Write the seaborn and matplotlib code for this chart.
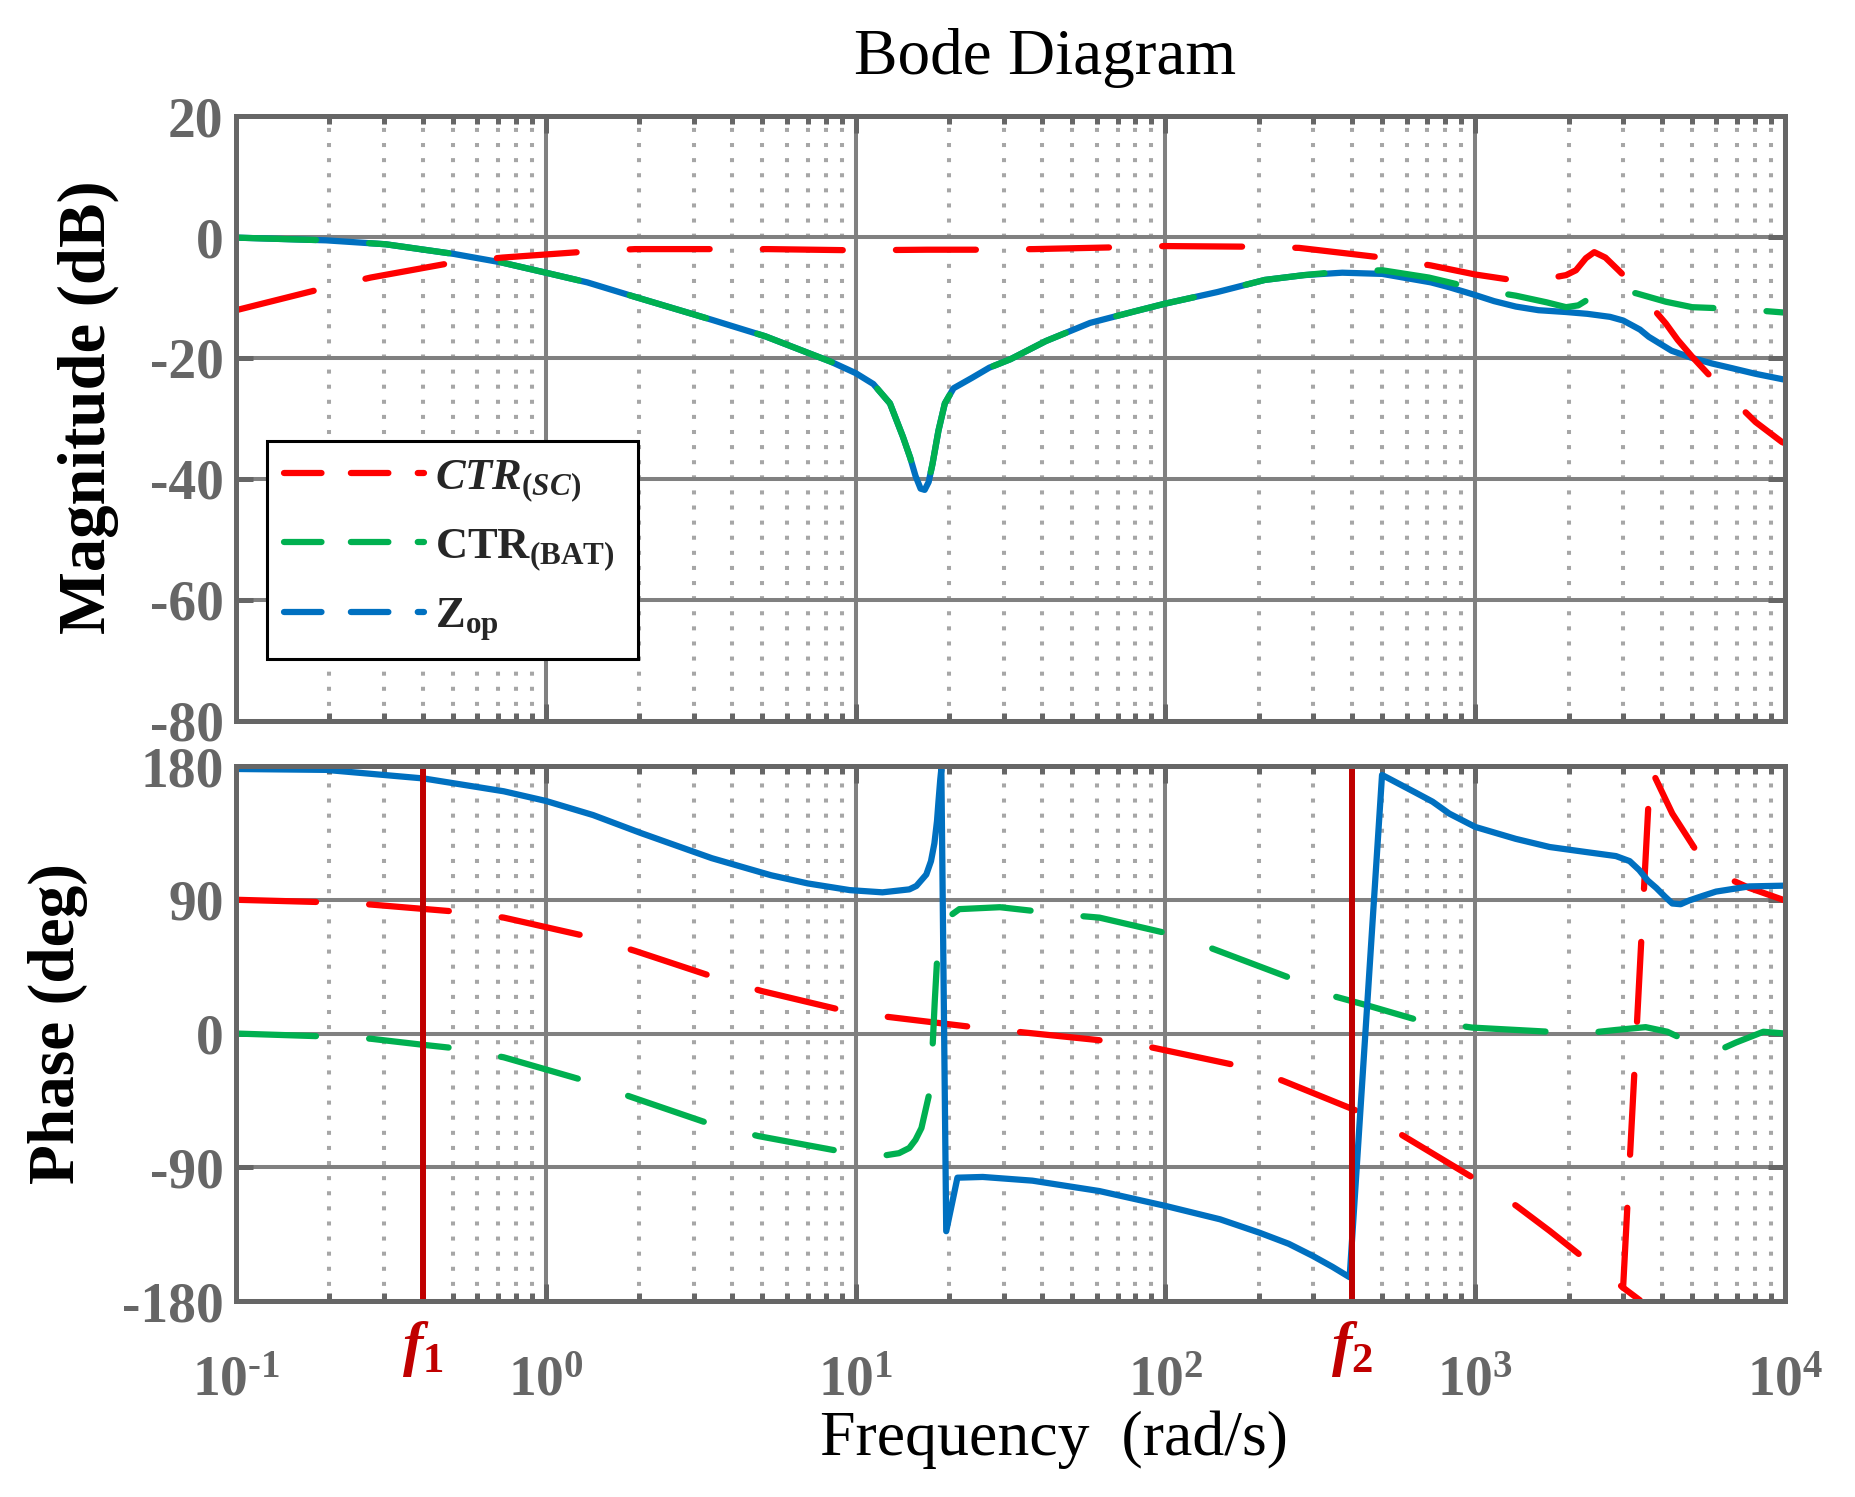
import matplotlib
matplotlib.use("Agg")
import numpy as np
import pandas as pd
import seaborn as sns
import matplotlib.pyplot as plt
from matplotlib.lines import Line2D
from matplotlib.ticker import LogLocator, NullFormatter

# ---- magnitude (dB) ----
w_zop_mag = [0.1, 0.195, 0.304, 0.505, 0.718, 1.0, 1.36, 1.94, 3.44, 5.1, 8.3, 10.0, 11.4, 12.9, 14.2,
             15.0, 15.6, 16.2, 16.7, 17.2, 17.7, 18.5, 19.4, 20.7, 23.7, 27.0, 31.6, 41.1, 57.1, 79.4,
             100, 147, 209, 280, 372, 501, 719, 824, 1000, 1150, 1352, 1600, 1963, 2300, 2723,
             3000, 3400, 3631, 4300, 5012, 5800, 6761, 8000, 10000]
zop_mag = [-0.1, -0.55, -1.2, -2.8, -4.2, -5.9, -7.5, -9.9, -13.7, -16.4, -20.6, -22.5, -24.3, -27.5, -33.0,
           -36.5, -39.5, -41.6, -41.8, -40.5, -37.5, -32.0, -27.5, -25.0, -23.3, -21.6, -20.2, -17.2, -14.2, -12.3,
           -11.0, -9.1, -7.1, -6.3, -5.9, -6.1, -7.5, -8.3, -9.6, -10.6, -11.5, -12.1, -12.4, -12.7, -13.2,
           -13.8, -15.3, -16.5, -18.8, -20.0, -20.9, -21.7, -22.6, -23.6]

w_bat_mag = [0.1, 0.195, 0.304, 0.505, 0.718, 1.0, 1.36, 1.94, 3.44, 5.1, 8.3, 10.0, 11.4, 12.9, 14.2,
             15.0, 15.6, 16.2, 16.7, 17.2, 17.7, 18.5, 19.4, 20.7, 23.7, 27.0, 31.6, 41.1, 57.1, 79.4,
             100, 147, 209, 280, 372, 501, 708, 1054, 1352, 1700, 1963, 2150, 2400, 2667, 3000,
             3304, 4121, 5012, 7112, 10000]
bat_mag = [-0.1, -0.55, -1.2, -2.8, -4.2, -5.9, -7.5, -9.9, -13.7, -16.4, -20.6, -22.5, -24.3, -27.5, -33.0,
           -36.5, -39.5, -41.6, -41.8, -40.5, -37.5, -32.0, -27.5, -25.0, -23.3, -21.6, -20.2, -17.2, -14.2, -12.3,
           -11.0, -9.1, -7.1, -6.3, -5.7, -5.5, -6.7, -8.8, -9.7, -10.8, -11.6, -11.3, -9.8, -8.6, -8.9,
           -9.3, -10.7, -11.6, -11.9, -12.5]

w_sc_mag = [0.1, 0.191, 0.272, 0.505, 0.724, 1.36, 1.94, 3.67, 5.22, 10.0, 17.0, 26.3, 37.7, 69.7,
            100, 186, 270, 501, 719, 1000, 1352, 1514, 1734, 1963, 2113, 2275, 2421, 2630, 2900,
            3381, 3700, 4121, 4500, 5012, 6442, 8035, 9772, 10000]
sc_mag = [-12.1, -8.5, -6.7, -4.2, -3.4, -2.4, -2.0, -2.0, -2.0, -2.2, -2.1, -2.1, -2.0, -1.7,
          -1.5, -1.6, -1.8, -3.4, -4.7, -6.2, -7.2, -7.3, -6.8, -6.3, -5.5, -3.5, -2.5, -3.4, -5.5,
          -8.9, -11.5, -14.3, -17.0, -19.8, -25.8, -30.6, -33.9, -34.1]

# ---- phase (deg) ----
w_zop_ph = [0.1, 0.195, 0.404, 0.731, 1.0, 1.42, 2.02, 3.43, 5.33, 7.0, 9.57, 12.2, 14.9, 15.7, 16.9,
            17.5, 17.95, 18.3, 18.5, 18.75, 18.9, 19.6, 21.3, 25.7, 37.2, 61.2, 100, 150, 201, 250,
            298, 346, 393, 500, 643, 728, 824, 1000, 1350, 1738, 2300, 2844, 3150, 3381, 3600,
            3837, 4100, 4325, 4600, 4898, 5400, 5984, 7656, 10000]
zop_ph = [178, 177.4, 171.6, 163, 156.5, 147, 135, 118, 106.5, 101, 96.5, 95, 97, 99.3, 107,
          116, 128, 143, 156, 171, 178, -133, -97, -96.5, -99, -106, -116, -125, -134, -141.5,
          -149.5, -157, -164, 174, 162, 156, 148, 139, 131, 125.5, 122, 119.4, 116, 110, 103,
          98, 92, 87.5, 87, 89.5, 92.5, 95.5, 99, 99.5]

w_bat_ph = [0.1, 0.191, 0.272, 0.394, 0.514, 0.731, 1.32, 1.88, 3.41, 4.85, 9.0, 12.6, 13.8, 14.9, 15.6,
            16.3, 17.3, 17.7, 18.0, 18.3, 18.8, 19.4, 20.1, 21.6, 29.2, 37.8, 53.6, 61.2, 100, 139,
            251, 351, 447, 651, 977, 1734, 2213, 2844, 3548, 4169, 4600, 5200, 5689, 6300, 6950,
            8511, 10000]
bat_ph = [0, -1.9, -3.5, -7.4, -10, -16, -31.4, -42.6, -61, -69, -79.4, -81.8, -80.5, -77, -71.5,
          -63.6, -40, -9.8, 21.8, 48.7, 64, 73.5, 79, 83.7, 85, 82.4, 79, 78, 67.7, 57.8,
          37.6, 25, 19, 9.1, 4, 1.2, 0, 2.4, 4.3, 1.2, -3, -10, -12.4, -10, -6,
          1.2, 0]

w_sc_ph1 = [0.1, 0.191, 0.272, 0.514, 0.731, 1.36, 1.94, 3.49, 4.97, 9.0, 12.7, 24.2, 34.3, 61.2,
            91, 171, 238, 432, 582, 1000, 1358, 1738, 2239, 2630, 3000, 3400]
sc_ph1 = [90, 88.4, 86.8, 82, 78, 65.3, 55.6, 38, 28.6, 15.8, 11.2, 4.2, 0.9, -4.5,
          -9.5, -21.6, -31.6, -53.5, -68.5, -98, -116, -132.8, -151, -161, -171, -179.5]
w_sc_ph2 = [3000, 3673, 4325, 5093, 5754, 6607, 7656, 10000]
sc_ph2 = [-171, 179, 148, 125, 113, 104, 98, 89.5]

f_marks = [0.4, 400]
f_labels = [r"$f_1$", r"$f_2$"]

decades = [0.1, 1, 10, 100, 1000, 10000]
decade_labels = [r"$\mathbf{10^{\text{-}1}}$", r"$\mathbf{10^{0}}$", r"$\mathbf{10^{1}}$",
                 r"$\mathbf{10^{2}}$", r"$\mathbf{10^{3}}$", r"$\mathbf{10^{4}}$"]
mag_ticks = [20, 0, -20, -40, -60, -80]
mag_tick_labels = ["20", "0", "-20", "-40", "-60", "-80"]
ph_ticks = [180, 90, 0, -90, -180]
ph_tick_labels = ["180", "90", "0", "-90", "-180"]
legend_labels = [r"$\mathit{CTR}_{\mathit{(SC)}}$", r"CTR$_{\mathrm{(BAT)}}$", r"Z$_{\mathrm{op}}$"]

sns.set_theme(style="white")
plt.rcParams["font.family"] = ["Liberation Serif", "DejaVu Serif"]
plt.rcParams["mathtext.fontset"] = "custom"
plt.rcParams["mathtext.rm"] = "Liberation Serif:bold"
plt.rcParams["mathtext.bf"] = "Liberation Serif:bold"
plt.rcParams["mathtext.it"] = "Liberation Serif:italic:bold"

RED, GREEN, BLUE = "#FF0000", "#00B050", "#0070C0"
FCOL = "#C00000"
GRAY = "#666666"
LW = 4.5
DASH = (0, (12.8, 8.5))

fig = plt.figure(figsize=(18.56, 14.97), dpi=100)
ax1 = fig.add_axes([0.1272, 0.5184, 0.8346, 0.4041])
ax2 = fig.add_axes([0.1272, 0.1309, 0.8346, 0.3574])
for ax in (ax1, ax2):
    ax.set_xscale("log")


def curve(ax, w, v, color, dashed, z):
    sns.lineplot(x=w, y=v, ax=ax, color=color, linewidth=LW,
                 linestyle=DASH if dashed else "-", dash_capstyle="round",
                 solid_capstyle="round", solid_joinstyle="round", estimator=None, sort=False, zorder=z)


# magnitude
curve(ax1, w_zop_mag, zop_mag, BLUE, False, 2)
curve(ax1, w_bat_mag, bat_mag, GREEN, True, 3)
curve(ax1, w_sc_mag, sc_mag, RED, True, 3.5)

# phase
sc_ph = pd.DataFrame({"w": w_sc_ph1 + w_sc_ph2, "deg": sc_ph1 + sc_ph2,
                      "seg": [1] * len(w_sc_ph1) + [2] * len(w_sc_ph2)})
sns.lineplot(data=sc_ph, x="w", y="deg", units="seg", estimator=None, sort=False, ax=ax2,
             color=RED, linewidth=LW, linestyle=DASH, dash_capstyle="round", zorder=2)
curve(ax2, w_bat_ph, bat_ph, GREEN, True, 2.5)
curve(ax2, w_zop_ph, zop_ph, BLUE, False, 3)

for f, lab in zip(f_marks, f_labels):
    ax2.axvline(f, color=FCOL, linewidth=4.3, zorder=4)
    ax2.text(f, -0.09, lab, transform=ax2.get_xaxis_transform(), ha="center", va="center",
             color=FCOL, fontsize=44)

for ax in (ax1, ax2):
    ax.set_xlim(0.1, 1e4)
    ax.xaxis.set_minor_locator(LogLocator(base=10, subs=np.arange(2, 10), numticks=20))
    ax.xaxis.set_minor_formatter(NullFormatter())
    ax.grid(True, which="major", color="#808080", linewidth=2.9, linestyle="-")
    ax.grid(True, which="minor", axis="x", color="#A6A6A6", linewidth=2.9, linestyle=(0, (1, 2.75)))
    ax.set_axisbelow(True)
    ax.tick_params(which="both", direction="in", top=True, right=True, bottom=True, left=True,
                   color=GRAY, width=3.6)
    ax.tick_params(which="major", length=12)
    ax.tick_params(which="minor", length=6)
    ax.tick_params(axis="y", pad=9)
    for s in ax.spines.values():
        s.set_color(GRAY)
        s.set_linewidth(3.6)
        s.set_zorder(5)
    ax.set_xlabel("")
    ax.set_ylabel("")

ax1.set_ylim(-80, 20)
ax1.set_yticks(mag_ticks, mag_tick_labels, fontsize=40, fontweight="bold", color=GRAY)
ax1.set_xticks(decades, [""] * len(decades))
ax2.set_ylim(-180, 180)
ax2.set_yticks(ph_ticks, ph_tick_labels, fontsize=40, fontweight="bold", color=GRAY)
ax2.set_xticks(decades, decade_labels, fontsize=40, color=GRAY)
ax2.tick_params(axis="x", pad=39)

handles = [Line2D([], [], color=c, linewidth=LW, linestyle=(0, (6.0, 4.7)), dash_capstyle="round")
           for c in (RED, GREEN, BLUE)]
leg = ax1.legend(handles, legend_labels, loc="upper left", bbox_to_anchor=(0.020, 0.0926, 0.2395, 0.3702),
                 mode="expand", borderaxespad=0,
                 prop={"family": "Liberation Serif", "weight": "bold", "size": 32},
                 handlelength=3.15, handletextpad=0.25, labelspacing=0.52, borderpad=0.38,
                 fancybox=False, framealpha=1, edgecolor="black")
leg.get_frame().set_linewidth(2.2)

fig.text(1045 / 1856, 1 - 74 / 1497, "Bode Diagram", ha="center", va="baseline", fontsize=47, color="black")
fig.text(1054 / 1856, 1 - 1455 / 1497, "Frequency  (rad/s)", ha="center", va="baseline", fontsize=46,
         color="black")
fig.text(105 / 1856, 0.728, "Magnitude (dB)", rotation=90, rotation_mode="anchor", ha="center",
         va="baseline", fontsize=48, fontweight="bold", color="black")
fig.text(74 / 1856, 0.316, "Phase (deg)", rotation=90, rotation_mode="anchor", ha="center",
         va="baseline", fontsize=47, fontweight="bold", color="black")

fig.savefig("out.png", dpi=100)
